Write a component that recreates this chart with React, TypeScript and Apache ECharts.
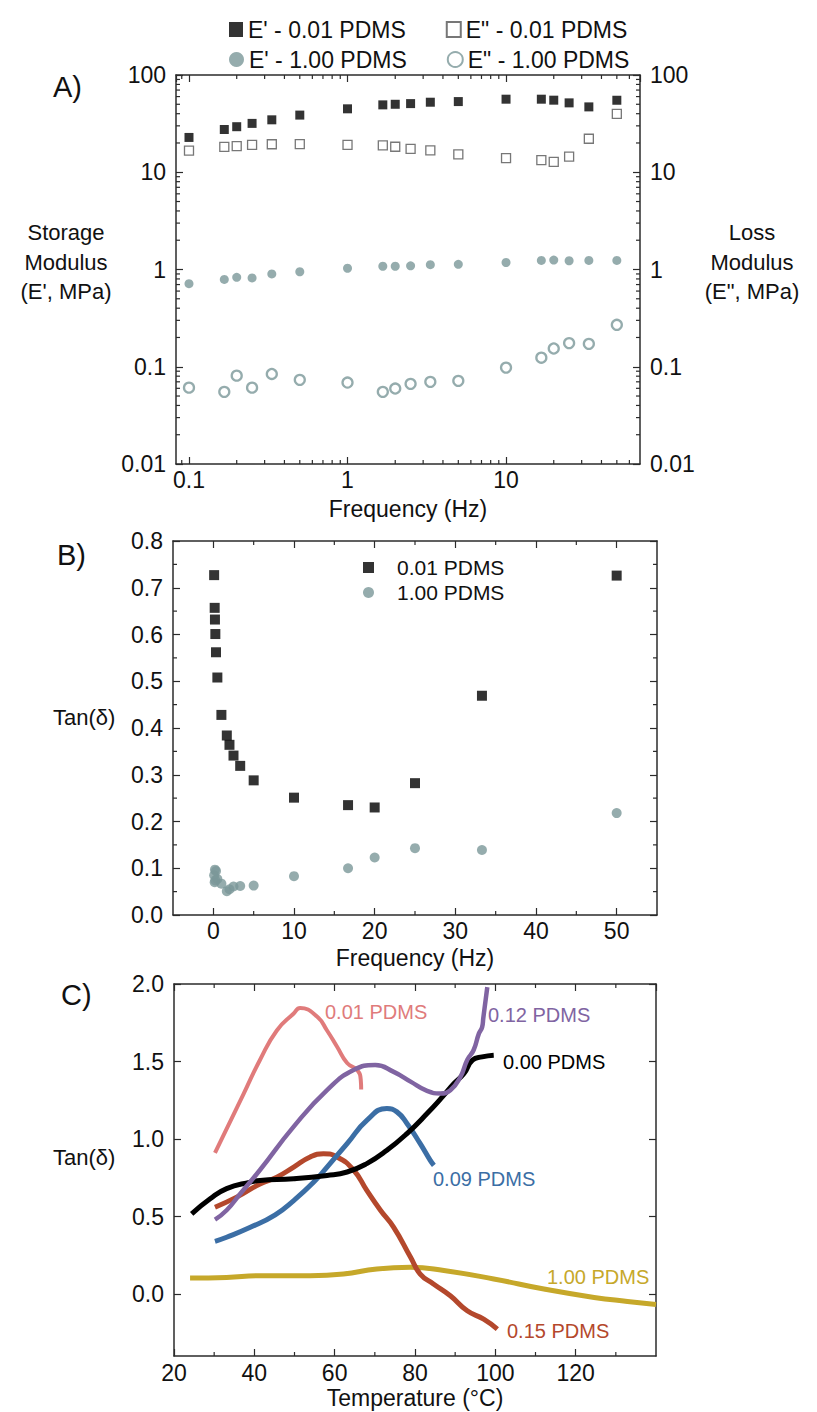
import React, { useEffect, useRef } from 'react';
import * as echarts from 'echarts';

// ---------- Panel A: frequency sweep moduli ----------
const freqA = [0.1, 0.167, 0.2, 0.25, 0.333, 0.5, 1, 1.67, 2, 2.5, 3.33, 5, 10, 16.7, 20, 25, 33.3, 50];
const storage001 = [22.8, 27.5, 29.4, 31.8, 34.6, 38.7, 44.9, 49.3, 50, 50.8, 52.5, 53.3, 56.4, 56.4, 55.1, 51.7, 47, 55];
const loss001 = [16.7, 18.2, 18.6, 19.1, 19.4, 19.5, 19.1, 18.9, 18.3, 17.4, 16.8, 15.3, 14.0, 13.3, 12.8, 14.5, 22.1, 39.9];
const storage100 = [0.714, 0.79, 0.83, 0.82, 0.9, 0.948, 1.03, 1.08, 1.08, 1.09, 1.12, 1.13, 1.18, 1.24, 1.25, 1.23, 1.24, 1.24];
const loss100 = [0.061, 0.0552, 0.081, 0.061, 0.0843, 0.0733, 0.0688, 0.0552, 0.0597, 0.0667, 0.0699, 0.0716, 0.098, 0.124, 0.154, 0.175, 0.172, 0.27];

// ---------- Panel B: tan(delta) vs frequency ----------
const freqB = [0.1, 0.167, 0.2, 0.25, 0.333, 0.5, 1, 1.67, 2, 2.5, 3.33, 5, 10, 16.7, 20, 25, 33.3, 50];
const tanB001 = [0.727, 0.657, 0.632, 0.601, 0.562, 0.508, 0.428, 0.384, 0.364, 0.341, 0.319, 0.288, 0.251, 0.235, 0.23, 0.282, 0.469, 0.726];
const tanB100 = [0.085, 0.07, 0.097, 0.074, 0.094, 0.077, 0.067, 0.051, 0.055, 0.061, 0.062, 0.063, 0.083, 0.1, 0.123, 0.143, 0.139, 0.218];

// ---------- Panel C: tan(delta) vs temperature ----------
const tempC001 = [30.2, 37.3, 41.4, 45.6, 49.8, 51.4, 55.6, 58.1, 60.6, 63.1, 65.6, 66.5, 66.6];
const tanC001 = [0.91, 1.29, 1.51, 1.70, 1.81, 1.845, 1.79, 1.70, 1.595, 1.49, 1.445, 1.38, 1.32];
const tempC012 = [30.2, 33.1, 36.5, 41.4, 49.8, 58.1, 64.7, 70.1, 74.7, 78.9, 83, 86.3, 88.8, 91.3, 93, 94.6, 95.9, 96.7, 97, 97.6, 98];
const tanC012 = [0.48, 0.54, 0.647, 0.8, 1.08, 1.315, 1.445, 1.477, 1.433, 1.37, 1.31, 1.294, 1.315, 1.4, 1.51, 1.574, 1.68, 1.72, 1.78, 1.9, 1.98];
const tempC000 = [24.4, 29, 33.1, 39, 41.4, 49.8, 58.1, 63.1, 68, 73, 78, 83, 87.2, 89.7, 92.2, 94.3, 96.7, 99.6];
const tanC000 = [0.517, 0.614, 0.68, 0.722, 0.733, 0.744, 0.765, 0.787, 0.841, 0.927, 1.035, 1.164, 1.283, 1.358, 1.423, 1.509, 1.53, 1.541];
const tempC009 = [30.2, 33.1, 39, 45.2, 49.8, 54.8, 58.1, 63.1, 68, 73, 75.5, 78, 81.3, 83.8, 84.7];
const tanC009 = [0.34, 0.366, 0.43, 0.511, 0.603, 0.722, 0.819, 0.97, 1.12, 1.197, 1.175, 1.1, 0.97, 0.862, 0.83];
const tempC015 = [30.2, 35.6, 41.4, 45.6, 49.8, 53.9, 57.2, 60.6, 64.7, 68, 71.4, 74.7, 78.9, 81.3, 84.6, 88.8, 93, 97.1, 100.5];
const tanC015 = [0.56, 0.625, 0.71, 0.754, 0.819, 0.884, 0.905, 0.884, 0.8, 0.668, 0.54, 0.43, 0.237, 0.129, 0.065, -0.011, -0.108, -0.162, -0.226];
const tempC100 = [24, 33.1, 41.4, 53.9, 62.2, 70.5, 78.9, 87.2, 99.6, 112.1, 124.6, 132.9, 140];
const tanC100 = [0.103, 0.107, 0.118, 0.118, 0.129, 0.162, 0.172, 0.151, 0.097, 0.032, -0.022, -0.048, -0.068];

// tick values
const decadesA = [0.01, 0.1, 1, 10];
const mantissas = [2, 3, 4, 5, 6, 7, 8, 9];
const majorB = [0, 10, 20, 30, 40, 50];
const minorBX = [5, 15, 25, 35, 45];
const minorBY = [0.05, 0.15, 0.25, 0.35, 0.45, 0.55, 0.65, 0.75];
const majorCY = [0, 0.5, 1, 1.5, 2];
const minorCX = [30, 50, 70, 90, 110, 130];

const AXIS = '#2b2b2b';
const TEAL = '#7b9799';
const FONT = '"Liberation Sans", Arial, Helvetica, sans-serif';

const zip = (xs: number[], ys: number[]) => xs.map((x, i) => [x, ys[i]]);

function minorTickSeries(idx: number, xs: number[], ys: number[], xRef: number, yRef: number, len: number) {
  const data = [...xs.map((v) => [v, yRef, 0]), ...ys.map((v) => [xRef, v, 1])];
  return {
    type: 'custom',
    xAxisIndex: idx,
    yAxisIndex: idx,
    silent: true,
    z: 5,
    encode: { x: 0, y: 1 },
    data,
    renderItem: (params: any, api: any) => {
      const cs = params.coordSys;
      const p = api.coord([api.value(0), api.value(1)]);
      const st = { stroke: AXIS, lineWidth: 1.2 };
      if (api.value(2) === 0) {
        return {
          type: 'group',
          children: [
            { type: 'line', shape: { x1: p[0], y1: cs.y + cs.height, x2: p[0], y2: cs.y + cs.height - len }, style: st },
            { type: 'line', shape: { x1: p[0], y1: cs.y, x2: p[0], y2: cs.y + len }, style: st },
          ],
        };
      }
      return {
        type: 'group',
        children: [
          { type: 'line', shape: { x1: cs.x, y1: p[1], x2: cs.x + len, y2: p[1] }, style: st },
          { type: 'line', shape: { x1: cs.x + cs.width, y1: p[1], x2: cs.x + cs.width - len, y2: p[1] }, style: st },
        ],
      };
    },
  };
}

const axisLine = { show: true, onZero: false, lineStyle: { color: AXIS, width: 1.5 } };
const tickIn = (len: number, extra: any = {}) => ({ show: true, inside: true, length: len, lineStyle: { color: AXIS, width: 1.2 }, ...extra });
const lbl = (extra: any = {}) => ({ color: '#111', fontSize: 23, fontFamily: FONT, ...extra });
const nameStyle = { color: '#111', fontSize: 23, fontFamily: FONT };
const logFmt = (v: number) => String(parseFloat(Number(v).toPrecision(6)));

function txt(text: string, x: number, y: number, size: number, fill = '#111', align = 'left') {
  return {
    type: 'text',
    x,
    y,
    z: 10,
    style: { text, fontSize: size, fontFamily: FONT, fill, align, verticalAlign: 'middle' },
  };
}

export default function App() {
  const ref = useRef<HTMLDivElement>(null);
  useEffect(() => {
    if (!ref.current) return;
    const chart = echarts.init(ref.current, null, { renderer: 'svg' });
    const minorAX = [0.09, ...decadesA.slice(1).flatMap((d) => mantissas.map((m) => m * d)).filter((v) => v < 70)];
    const minorAY = decadesA.flatMap((d) => mantissas.map((m) => m * d));

    const option: any = {
      animation: false,
      backgroundColor: '#fff',
      textStyle: { fontFamily: FONT },
      grid: [
        { left: 176, top: 75, width: 464, height: 389 },
        { left: 173, top: 541, width: 484, height: 374 },
        { left: 174, top: 984, width: 482, height: 372 },
      ],
      legend: [
        {
          data: [{ name: "E' - 0.01 PDMS", icon: 'rect' }, { name: 'E" - 0.01 PDMS', icon: 'rect' }],
          left: 224, top: 13, itemWidth: 14, itemHeight: 15, itemGap: 40, selectedMode: false,
          textStyle: { fontSize: 23, fontFamily: FONT, color: '#111' },
        },
        {
          data: [{ name: "E' - 1.00 PDMS", icon: 'circle' }, { name: 'E" - 1.00 PDMS', icon: 'circle' }],
          left: 224, top: 43, itemWidth: 15, itemHeight: 15, itemGap: 40, selectedMode: false,
          textStyle: { fontSize: 23, fontFamily: FONT, color: '#111' },
        },
        {
          data: [{ name: '0.01 PDMS', icon: 'rect' }, { name: '1.00 PDMS', icon: 'circle' }],
          orient: 'vertical', left: 358, top: 552, itemWidth: 11, itemHeight: 11, itemGap: 4, selectedMode: false,
          textStyle: { fontSize: 21, fontFamily: FONT, color: '#111', padding: [0, 0, 0, 18] },
        },
      ],
      xAxis: [
        {
          type: 'log', gridIndex: 0, position: 'bottom', min: 0.0828, max: 70, axisLine, axisTick: tickIn(7),
          axisLabel: lbl({ margin: 4, showMinLabel: false, showMaxLabel: false, formatter: logFmt }),
          splitLine: { show: false }, name: 'Frequency (Hz)', nameLocation: 'middle', nameGap: 33, nameTextStyle: nameStyle,
        },
        {
          type: 'log', gridIndex: 0, position: 'top', min: 0.0828, max: 70, axisLine, axisTick: tickIn(7),
          axisLabel: { show: false }, splitLine: { show: false },
        },
        {
          type: 'value', gridIndex: 1, position: 'bottom', min: -5, max: 55, axisLine,
          axisTick: tickIn(7, { customValues: majorB }),
          axisLabel: lbl({ margin: 4, customValues: majorB }),
          splitLine: { show: false }, name: 'Frequency (Hz)', nameLocation: 'middle', nameGap: 31, nameTextStyle: nameStyle,
        },
        {
          type: 'value', gridIndex: 1, position: 'top', min: -5, max: 55, axisLine,
          axisTick: tickIn(7, { customValues: majorB }), axisLabel: { show: false }, splitLine: { show: false },
        },
        {
          type: 'value', gridIndex: 2, position: 'bottom', min: 20, max: 140, interval: 20, axisLine, axisTick: tickIn(7),
          axisLabel: lbl({ margin: 5, showMaxLabel: false }),
          splitLine: { show: false }, name: 'Temperature (°C)', nameLocation: 'middle', nameGap: 30, nameTextStyle: nameStyle,
        },
        {
          type: 'value', gridIndex: 2, position: 'top', min: 20, max: 140, interval: 20, axisLine, axisTick: tickIn(7),
          axisLabel: { show: false }, splitLine: { show: false },
        },
      ],
      yAxis: [
        {
          type: 'log', gridIndex: 0, position: 'left', min: 0.01, max: 100, axisLine, axisTick: tickIn(7),
          axisLabel: lbl({ margin: 10, formatter: logFmt }), splitLine: { show: false },
        },
        {
          type: 'log', gridIndex: 0, position: 'right', min: 0.01, max: 100, axisLine, axisTick: tickIn(7),
          axisLabel: lbl({ margin: 10, formatter: logFmt }), splitLine: { show: false },
        },
        {
          type: 'value', gridIndex: 1, position: 'left', min: 0, max: 0.8, interval: 0.1, axisLine, axisTick: tickIn(7),
          axisLabel: lbl({ margin: 10, formatter: (v: number) => v.toFixed(1) }), splitLine: { show: false },
        },
        {
          type: 'value', gridIndex: 1, position: 'right', min: 0, max: 0.8, interval: 0.1, axisLine, axisTick: tickIn(7),
          axisLabel: { show: false }, splitLine: { show: false },
        },
        {
          type: 'value', gridIndex: 2, position: 'left', min: -0.4, max: 2.0, axisLine,
          axisTick: tickIn(7, { customValues: majorCY }),
          axisLabel: lbl({ margin: 10, customValues: majorCY, formatter: (v: number) => v.toFixed(1) }), splitLine: { show: false },
        },
        {
          type: 'value', gridIndex: 2, position: 'right', min: -0.4, max: 2.0, axisLine,
          axisTick: tickIn(7, { customValues: majorCY }), axisLabel: { show: false }, splitLine: { show: false },
        },
      ],
      series: [
        // Panel A
        {
          name: "E' - 0.01 PDMS", type: 'scatter', xAxisIndex: 0, yAxisIndex: 0, symbol: 'rect', symbolSize: 9,
          itemStyle: { color: '#000' }, data: zip(freqA, storage001),
        },
        {
          name: 'E" - 0.01 PDMS', type: 'scatter', xAxisIndex: 0, yAxisIndex: 0, symbol: 'rect', symbolSize: 9,
          itemStyle: { color: '#fff', borderColor: '#555', borderWidth: 1.3 }, data: zip(freqA, loss001),
        },
        {
          name: "E' - 1.00 PDMS", type: 'scatter', xAxisIndex: 0, yAxisIndex: 0, symbol: 'circle', symbolSize: 9,
          itemStyle: { color: TEAL }, data: zip(freqA, storage100),
        },
        {
          name: 'E" - 1.00 PDMS', type: 'scatter', xAxisIndex: 0, yAxisIndex: 0, symbol: 'circle', symbolSize: 10,
          itemStyle: { color: '#fff', borderColor: TEAL, borderWidth: 2.3 }, data: zip(freqA, loss100),
        },
        minorTickSeries(0, minorAX, minorAY, 1, 1, 4),
        // Panel B
        {
          name: '0.01 PDMS', type: 'scatter', xAxisIndex: 2, yAxisIndex: 2, symbol: 'rect', symbolSize: 10,
          itemStyle: { color: '#000' }, data: zip(freqB, tanB001),
        },
        {
          name: '1.00 PDMS', type: 'scatter', xAxisIndex: 2, yAxisIndex: 2, symbol: 'circle', symbolSize: 10,
          itemStyle: { color: TEAL }, data: zip(freqB, tanB100),
        },
        minorTickSeries(2, minorBX, minorBY, 0, 0.4, 4),
        // Panel C
        {
          name: 'T 1.00 PDMS', type: 'line', xAxisIndex: 4, yAxisIndex: 4, smooth: true, showSymbol: false,
          lineStyle: { color: '#c6a82a', width: 5 }, data: zip(tempC100, tanC100),
        },
        {
          name: 'T 0.15 PDMS', type: 'line', xAxisIndex: 4, yAxisIndex: 4, smooth: true, showSymbol: false,
          lineStyle: { color: '#b4482c', width: 5 }, data: zip(tempC015, tanC015),
        },
        {
          name: 'T 0.09 PDMS', type: 'line', xAxisIndex: 4, yAxisIndex: 4, smooth: true, showSymbol: false,
          lineStyle: { color: '#3b6ea5', width: 5 }, data: zip(tempC009, tanC009),
        },
        {
          name: 'T 0.01 PDMS', type: 'line', xAxisIndex: 4, yAxisIndex: 4, smooth: true, showSymbol: false,
          lineStyle: { color: '#e07b7b', width: 4 }, data: zip(tempC001, tanC001),
        },
        {
          name: 'T 0.00 PDMS', type: 'line', xAxisIndex: 4, yAxisIndex: 4, smooth: true, showSymbol: false,
          lineStyle: { color: '#000', width: 5 }, data: zip(tempC000, tanC000),
        },
        {
          name: 'T 0.12 PDMS', type: 'line', xAxisIndex: 4, yAxisIndex: 4, smooth: true, showSymbol: false,
          lineStyle: { color: '#8064a2', width: 4.5 }, data: zip(tempC012, tanC012),
        },
        minorTickSeries(4, minorCX, [], 30, 0, 4),
      ],
      graphic: [
        txt('A)', 53, 87, 29),
        txt('B)', 57, 555, 29),
        txt('C)', 61, 995, 29),
        txt('Storage', 66, 232, 22, '#111', 'center'),
        txt('Modulus', 66, 262, 22, '#111', 'center'),
        txt("(E', MPa)", 66, 291, 22, '#111', 'center'),
        txt('Loss', 752, 232, 22, '#111', 'center'),
        txt('Modulus', 752, 262, 22, '#111', 'center'),
        txt('(E", MPa)', 752, 291, 22, '#111', 'center'),
        txt('Tan(δ)', 53, 717, 22),
        txt('Tan(δ)', 53, 1157, 22),
        txt('0.01 PDMS', 325, 1012, 20, '#e07b7b'),
        txt('0.12 PDMS', 488, 1015, 20, '#8064a2'),
        txt('0.00 PDMS', 503, 1062, 20, '#000'),
        txt('0.09 PDMS', 433, 1179, 20, '#3b6ea5'),
        txt('1.00 PDMS', 547, 1277, 20, '#c6a82a'),
        txt('0.15 PDMS', 507, 1331, 20, '#b4482c'),
      ],
    };
    chart.setOption(option);
    return () => chart.dispose();
  }, []);
  return (
    <div
      ref={ref}
      style={{ position: 'fixed', left: 0, top: 0, width: 817, height: 1412, background: '#fff' }}
    />
  );
}
